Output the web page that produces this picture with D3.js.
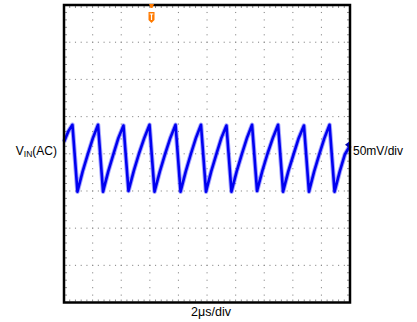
<!DOCTYPE html>
<html>
<head>
<meta charset="utf-8">
<script src="https://cdn.jsdelivr.net/npm/d3@7"></script>
<style>
	body { margin: 0; background: #fff; }
	svg { display: block; }
	text { font-family: "Liberation Sans", Arial, sans-serif; }
</style>
</head>
<body>
<div id="chart"></div>
<script>
// scope capture: time in us, VIN (AC coupled) in mV
var timeUs = [
	0.00, 0.30, 0.59, 0.94, 1.30, 1.66, 2.02, 2.38, 2.73, 3.09,
	3.45, 3.80, 4.16, 4.51, 4.88, 5.24, 5.61, 5.98, 6.33, 6.70,
	7.06, 7.43, 7.80, 8.15, 8.51, 8.86, 9.22, 9.58, 9.93, 10.29,
	10.65, 11.00, 11.36, 11.71, 12.07, 12.43, 12.79, 13.15, 13.50, 13.87,
	14.23, 14.60, 14.97, 15.32, 15.68, 16.05, 16.41, 16.78, 17.13, 17.49,
	17.85, 18.21, 18.57, 18.92, 19.28, 19.64, 20.00
];
var vinMv = [
	16, 30, 39, -51, -24, -1, 21, 39, -51, -24,
	-1, 21, 38, -50, -23, 0, 21, 39, -51, -24,
	-1, 21, 39, -51, -24, -1, 21, 39, -51, -24,
	-1, 21, 38, -51, -24, -1, 21, 39, -50, -23,
	0, 21, 39, -51, -24, -1, 21, 38, -51, -24,
	-1, 21, 39, -51, -24, -1, 11
];

var timeRange = [0, 20];         // 10 div x 2us
var voltRange = [-200, 200];     // 8 div x 50mV
var timeDiv = 2, voltDiv = 50, minorPerDiv = 5;
var triggerTime = 6.12;
var channelLevel = 12;

var channelLabel = ['V', 'IN', '(AC)'];
var voltLabel = '50mV/div';
var timeLabel = '2\u03bcs/div';

(function ()	{
	'use strict';

	var W = 417, H = 322;
	var frame = { left: 64, right: 350, top: 5, bottom: 302.5 };

	var svg = d3.select('#chart').append('svg')
		.attr('width', W)
		.attr('height', H);

	var x = d3.scaleLinear().domain(timeRange).range([frame.left, frame.right]);
	var y = d3.scaleLinear().domain(voltRange).range([frame.bottom, frame.top]);

	var xMajor = d3.range(timeRange[0], timeRange[1] + 1e-6, timeDiv),
			yMajor = d3.range(voltRange[0], voltRange[1] + 1e-6, voltDiv),
			xMinor = d3.range(timeRange[0], timeRange[1] + 1e-6, timeDiv / minorPerDiv),
			yMinor = d3.range(voltRange[0], voltRange[1] + 1e-6, voltDiv / minorPerDiv);

	// dotted graticule
	var grid = svg.append('g').attr('fill', '#8c8c8c');
	var dots = [];

	xMajor.slice(1, -1).forEach(function (t)	{
		yMinor.slice(1, -1).forEach(function (v)	{ dots.push([x(t), y(v)]); });
	});
	yMajor.slice(1, -1).forEach(function (v)	{
		xMinor.slice(1, -1).forEach(function (t)	{ dots.push([x(t), y(v)]); });
	});

	grid.selectAll('rect.dot')
		.data(dots)
		.enter().append('rect')
		.attr('class', 'dot')
		.attr('x', function (d)	{ return d[0] - 0.5; })
		.attr('y', function (d)	{ return d[1] - 0.5; })
		.attr('width', 1.1)
		.attr('height', 1.1);

	// small ticks on the inside of the frame
	var ticks = svg.append('g').attr('stroke', '#8c8c8c').attr('stroke-width', 1);

	xMinor.slice(1, -1).forEach(function (t)	{
		ticks.append('line').attr('x1', x(t)).attr('x2', x(t))
			.attr('y1', frame.top + 1).attr('y2', frame.top + 3);
		ticks.append('line').attr('x1', x(t)).attr('x2', x(t))
			.attr('y1', frame.bottom - 1).attr('y2', frame.bottom - 3);
	});
	yMinor.slice(1, -1).forEach(function (v)	{
		ticks.append('line').attr('y1', y(v)).attr('y2', y(v))
			.attr('x1', frame.left + 1).attr('x2', frame.left + 3);
		ticks.append('line').attr('y1', y(v)).attr('y2', y(v))
			.attr('x1', frame.right - 1).attr('x2', frame.right - 3);
	});

	// trace
	var pts = timeUs.map(function (t, i)	{ return [t, vinMv[i]]; });
	var line = d3.line()
		.x(function (d)	{ return x(d[0]); })
		.y(function (d)	{ return y(d[1]); });

	svg.append('path')
		.datum(pts)
		.attr('d', line)
		.attr('fill', 'none')
		.attr('stroke', '#5a5aff')
		.attr('stroke-opacity', 0.55)
		.attr('stroke-width', 4.5)
		.attr('stroke-linejoin', 'round');

	svg.append('path')
		.datum(pts)
		.attr('d', line)
		.attr('fill', 'none')
		.attr('stroke', '#0000f0')
		.attr('stroke-width', 2.6)
		.attr('stroke-linejoin', 'round');

	// frame
	svg.append('rect')
		.attr('x', frame.left)
		.attr('y', frame.top)
		.attr('width', frame.right - frame.left)
		.attr('height', frame.bottom - frame.top)
		.attr('fill', 'none')
		.attr('stroke', '#000')
		.attr('stroke-width', 2.5);

	// channel reference marker on the right edge
	var cy = y(channelLevel), cx = frame.right - 1;
	svg.append('path')
		.attr('d', 'M' + (cx - 4) + ',' + cy + 'L' + cx + ',' + (cy - 3) + 'L' + cx + ',' + (cy + 3) + 'Z')
		.attr('fill', '#0000b0');

	// trigger marker
	var tx = x(triggerTime), ty = frame.top;
	var trig = svg.append('g');
	trig.append('path')
		.attr('d', 'M' + (tx - 2.5) + ',' + (ty - 1) + 'H' + (tx + 2.5) + 'L' + (tx + 1) + ',' + (ty + 3) + 'H' + (tx - 1) + 'Z')
		.attr('fill', '#ff7a00');
	trig.append('path')
		.attr('d', 'M' + (tx - 3) + ',' + (ty + 7) + 'H' + (tx + 3) + 'V' + (ty + 15) +
			'L' + tx + ',' + (ty + 18) + 'L' + (tx - 3) + ',' + (ty + 15) + 'Z')
		.attr('fill', '#ff7a00');
	trig.append('path')
		.attr('d', 'M' + (tx - 1.8) + ',' + (ty + 9) + 'H' + (tx + 1.8) + 'M' + tx + ',' + (ty + 9) + 'V' + (ty + 15))
		.attr('stroke', '#fff')
		.attr('stroke-width', 1.2)
		.attr('fill', 'none');

	// labels
	var lab = svg.append('text')
		.attr('x', 57)
		.attr('y', 155)
		.attr('text-anchor', 'end')
		.attr('font-size', 12)
		.attr('fill', '#000');
	lab.append('tspan').text(channelLabel[0]);
	lab.append('tspan').attr('font-size', 8.5).attr('dy', 1.5).text(channelLabel[1]);
	lab.append('tspan').attr('dy', -1.5).text(channelLabel[2]);

	svg.append('text')
		.attr('x', 353)
		.attr('y', 155)
		.attr('font-size', 12)
		.attr('fill', '#000')
		.text(voltLabel);

	svg.append('text')
		.attr('x', (frame.left + frame.right) / 2 + 4)
		.attr('y', 316)
		.attr('text-anchor', 'middle')
		.attr('font-size', 12.5)
		.attr('fill', '#000')
		.text(timeLabel);
})();
</script>
</body>
</html>
